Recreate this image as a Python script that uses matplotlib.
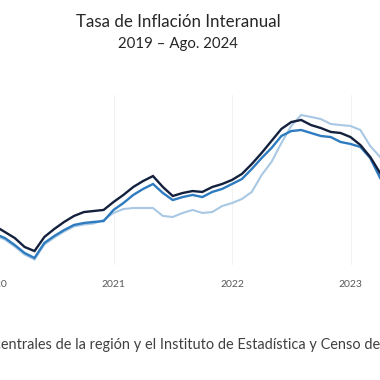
import matplotlib
matplotlib.use("Agg")
import matplotlib.pyplot as plt

# Months since Jan 2020
months = list(range(0, 41))

serie_oscura = [2.20, 1.80, 1.40, 0.80, 0.53, 1.47, 2.00, 2.47, 2.87, 3.13, 3.20,
                3.27, 3.80, 4.27, 4.80, 5.20, 5.53, 4.80, 4.20, 4.40, 4.53, 4.47,
                4.80, 5.00, 5.27, 5.67, 6.33, 7.07, 7.87, 8.67, 9.13, 9.27, 8.93,
                8.73, 8.47, 8.40, 8.13, 7.60, 6.80, 5.73, 4.93]
serie_media = [1.67, 1.40, 0.93, 0.40, 0.07, 1.07, 1.53, 1.93, 2.27, 2.40, 2.47,
               2.53, 3.27, 3.73, 4.27, 4.67, 5.00, 4.40, 3.93, 4.13, 4.27, 4.13,
               4.47, 4.67, 5.00, 5.33, 6.00, 6.73, 7.40, 8.20, 8.53, 8.60, 8.40,
               8.20, 8.13, 7.80, 7.67, 7.47, 6.73, 5.40, 4.47]
serie_clara = [1.57, 1.30, 0.83, 0.30, -0.03, 0.97, 1.43, 1.83, 2.17, 2.30, 2.37,
               2.60, 3.07, 3.33, 3.40, 3.40, 3.40, 2.87, 2.80, 3.07, 3.27, 3.07,
               3.13, 3.53, 3.73, 4.00, 4.47, 5.60, 6.47, 7.73, 8.87, 9.60, 9.47,
               9.33, 9.00, 8.93, 8.87, 8.60, 7.53, 6.80, 5.93]

tick_pos = [0, 12, 24, 36]
tick_labels = ["2020", "2021", "2022", "2023"]

title = "Tasa de Inflación Interanual"
subtitle = "2019 – Ago. 2024"
fuente_prefijo = "Fuente: Elaborado con datos de los bancos c"
fuente = "Fuente: Elaborado con datos de los bancos centrales de la región y el Instituto de Estadística y Censo de Panamá."

font = "Lato"
W = H = 380
fig = plt.figure(figsize=(3.8, 3.8), dpi=100)

# axes spanning beyond the visible crop
px_per_month = 9.875
x0_pix = -5.0
left_pix, right_pix = -60, 440
xmin = (left_pix - x0_pix) / px_per_month
xmax = (right_pix - x0_pix) / px_per_month
top_pix, bot_pix = 95, 265
ypx_per_unit = 15.0
y0_pix = 259.0
ymax = (y0_pix - top_pix) / ypx_per_unit
ymin = (y0_pix - bot_pix) / ypx_per_unit

ax = fig.add_axes([left_pix / W, 1 - bot_pix / H, (right_pix - left_pix) / W, (bot_pix - top_pix) / H])
ax.set_xlim(xmin, xmax)
ax.set_ylim(ymin, ymax)
for s in ax.spines.values():
    s.set_visible(False)
ax.set_yticks([])
ax.set_xticks(tick_pos)
ax.set_xticklabels(tick_labels, fontfamily=font, fontsize=7.5, color="#595959")
ax.tick_params(axis="x", length=0, pad=11)
ax.grid(axis="x", color="#f2f2f2", linewidth=0.8)
ax.set_axisbelow(True)

ax.plot(months, serie_clara, color="#a9c8e4", linewidth=1.5, solid_joinstyle="miter")
ax.plot(months, serie_media, color="#2e7bbf", linewidth=1.7, solid_joinstyle="miter")
ax.plot(months, serie_oscura, color="#14213d", linewidth=1.7, solid_joinstyle="miter")

fig.text(178 / W, 1 - 22 / H, title, ha="center", va="center", fontfamily=font, fontsize=12.2, color="#262626")
fig.text(178 / W, 1 - 44 / H, subtitle, ha="center", va="center", fontfamily=font, fontsize=10.8, color="#262626")

# source note, cropped on the left like the reference
r = fig.canvas.get_renderer()
fs_src = 10.45
tmp = fig.text(0, 0, fuente_prefijo, fontfamily=font, fontsize=fs_src)
w = tmp.get_window_extent(renderer=r).width
tmp.remove()
fig.text((1 - w) / W, 1 - 345 / H, fuente, ha="left", va="center", fontfamily=font, fontsize=fs_src, color="#404040")

fig.savefig("out.png", dpi=100)
